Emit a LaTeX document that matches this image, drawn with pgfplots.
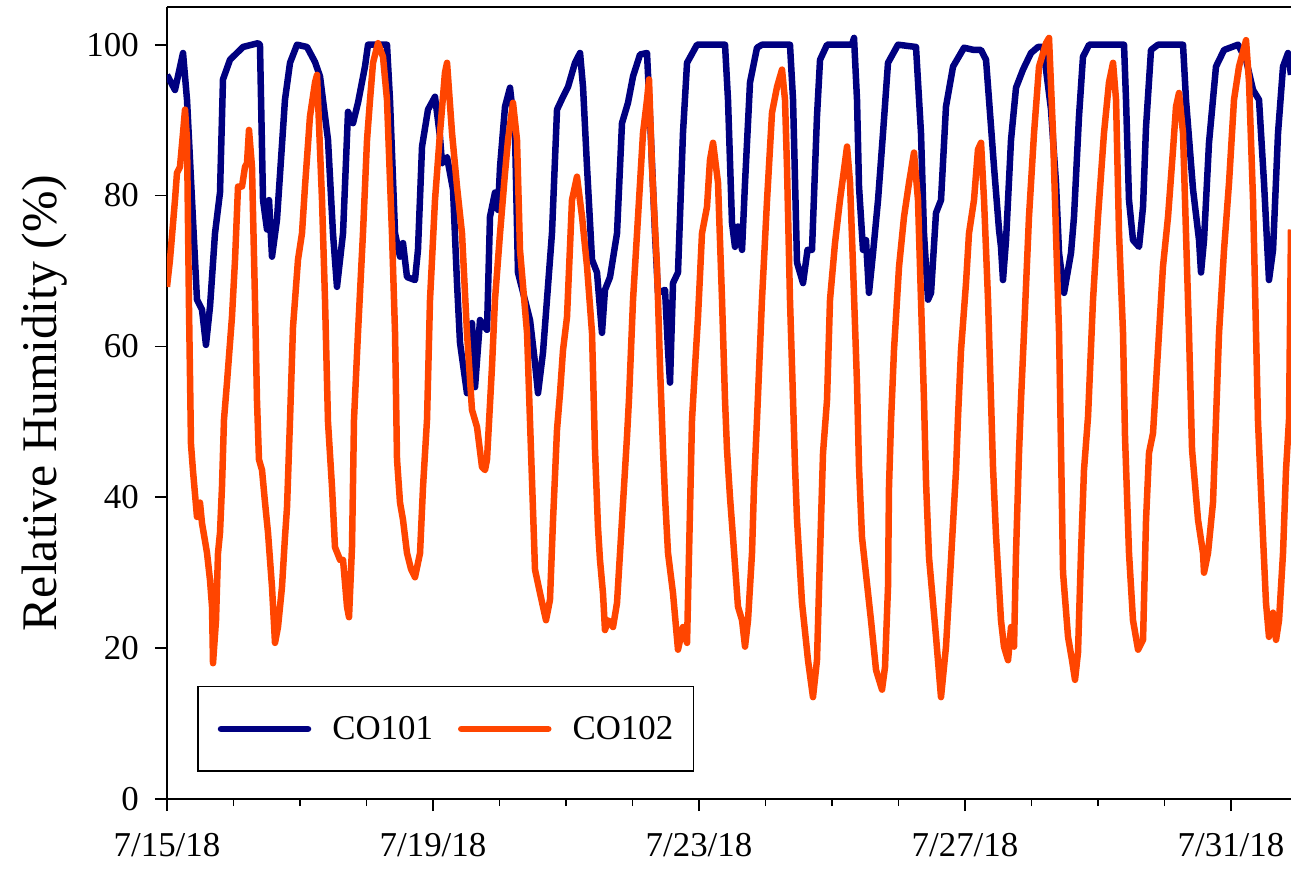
\documentclass[border=0pt]{standalone}
\usepackage{fontspec}
\setmainfont{Liberation Serif}
\usepackage{pgfplots}
\pgfplotsset{compat=1.18}
\definecolor{conavy}{RGB}{0,0,128}
\definecolor{coorange}{RGB}{255,69,0}
\begin{document}
\begin{tikzpicture}
\begin{axis}[name=ax,
  scale only axis, width=1124bp, height=792bp,
  xmin=0, xmax=16.902, ymin=0, ymax=105,
  axis x line*=box, axis y line*=left,
  xtick pos=left, ytick pos=left,
  tick align=outside,
  axis line style={line width=1.8bp, black},
  tick style={line width=1.8bp, black},
  major tick length=12bp, minor tick length=7bp,
  xtick={0,4,8,12,16},
  xticklabels={7/15/18,7/19/18,7/23/18,7/27/18,7/31/18},
  minor xtick={1,2,3,5,6,7,9,10,11,13,14,15},
  ytick={0,20,40,60,80,100},
  /pgf/number format/assume math mode=true,
  ticklabel style={font=\fontsize{35}{40}\selectfont},
  xticklabel style={anchor=north, inner sep=0pt, yshift=-22bp},
  yticklabel style={anchor=east, inner sep=0pt, xshift=-16bp},
  ylabel={Relative Humidity (\%)},
  ylabel style={font=\fontsize{50}{56}\selectfont, at={(axis description cs:-0.0979,0.5)}, anchor=base},
  legend columns=2,
  legend style={at={(axis description cs:0.0267,0.0341)}, anchor=south west,
    draw=black, line width=1.5bp, fill=white,
    font=\fontsize{35}{40}\selectfont,
    inner xsep=20bp, inner ysep=30bp,
    nodes={inner sep=0pt},
    /tikz/every odd column/.append style={column sep=21bp},
    /tikz/every even column/.append style={column sep=25bp}},
  legend image code/.code={\draw[line width=6.5bp, line cap=round] (0bp,0bp) -- (87bp,0bp);},
]
\addplot[conavy, line width=6.5bp, line join=round] coordinates {
(0.000,96.0)(0.120,94.0)(0.241,98.9)(0.301,92.7)(0.376,79.4)(0.451,66.2)(0.526,64.9)(0.586,60.2)(0.647,65.3)(0.722,75.0)(0.797,80.4)(0.842,95.4)(0.947,98.0)(1.143,99.7)(1.368,100.2)(1.398,100.0)(1.444,79.4)(1.504,75.5)(1.534,79.4)(1.579,71.9)(1.654,76.8)(1.774,92.7)(1.850,97.6)(1.955,100.0)(2.105,99.7)(2.226,97.7)(2.301,95.8)(2.421,87.4)(2.496,75.0)(2.556,67.9)(2.647,75.0)(2.722,91.1)(2.797,89.6)(2.872,92.3)(2.977,97.1)(3.023,100.0)(3.308,100.0)(3.353,92.7)(3.429,75.0)(3.504,71.9)(3.549,73.7)(3.609,69.2)(3.729,68.8)(3.774,72.8)(3.835,86.5)(3.925,91.4)(4.030,93.1)(4.105,87.8)(4.135,84.3)(4.211,85.1)(4.301,80.8)(4.361,68.4)(4.406,60.5)(4.511,53.8)(4.586,63.1)(4.632,54.6)(4.707,63.5)(4.812,62.2)(4.857,77.2)(4.932,80.4)(4.977,78.1)(5.008,83.8)(5.083,91.8)(5.158,94.3)(5.233,88.3)(5.278,69.8)(5.459,63.5)(5.534,57.8)(5.579,53.8)(5.654,59.2)(5.789,75.0)(5.865,91.4)(5.955,93.1)(6.030,94.4)(6.135,97.6)(6.211,98.9)(6.256,94.4)(6.316,83.8)(6.391,71.5)(6.466,69.8)(6.541,61.8)(6.586,67.5)(6.662,69.2)(6.767,75.0)(6.842,89.6)(6.932,92.3)(7.008,95.8)(7.113,98.7)(7.218,98.9)(7.263,90.5)(7.338,75.0)(7.383,67.1)(7.489,67.5)(7.534,59.5)(7.564,55.2)(7.609,68.4)(7.684,69.8)(7.759,88.3)(7.820,97.6)(7.970,100.0)(8.391,100.0)(8.436,92.7)(8.496,76.4)(8.541,73.2)(8.586,75.9)(8.647,72.8)(8.692,81.7)(8.767,95.0)(8.872,99.6)(8.947,100.0)(9.368,100.0)(9.414,92.7)(9.474,71.1)(9.564,68.4)(9.632,72.8)(9.699,72.8)(9.774,90.5)(9.820,98.0)(9.925,100.0)(10.301,100.0)(10.331,100.9)(10.376,92.7)(10.406,81.2)(10.466,72.8)(10.511,74.1)(10.556,67.1)(10.617,72.4)(10.692,79.4)(10.767,88.3)(10.842,97.6)(10.992,100.0)(11.263,99.7)(11.338,88.3)(11.383,75.0)(11.444,66.2)(11.489,67.1)(11.564,77.7)(11.639,79.4)(11.714,91.8)(11.820,97.1)(11.985,99.6)(12.135,99.3)(12.241,99.3)(12.316,98.0)(12.361,92.7)(12.436,83.8)(12.511,75.5)(12.541,73.2)(12.571,68.8)(12.617,74.1)(12.692,87.4)(12.767,94.3)(12.872,96.7)(12.992,98.9)(13.098,99.7)(13.173,99.7)(13.218,96.7)(13.293,91.4)(13.368,81.7)(13.414,72.4)(13.489,67.1)(13.594,72.4)(13.639,77.2)(13.714,90.5)(13.774,98.4)(13.865,100.0)(14.391,100.0)(14.421,92.7)(14.466,79.4)(14.526,74.1)(14.617,73.2)(14.677,78.5)(14.722,89.1)(14.797,99.3)(14.902,100.0)(15.278,100.0)(15.323,92.7)(15.429,80.8)(15.519,74.1)(15.549,69.8)(15.594,74.1)(15.669,87.0)(15.774,97.1)(15.895,99.3)(16.105,100.0)(16.226,98.0)(16.331,94.0)(16.421,92.7)(16.496,81.7)(16.571,68.8)(16.632,72.8)(16.707,88.3)(16.782,97.1)(16.857,98.9)(16.902,96.0)
};
\addlegendentry{CO101}
\addplot[coorange, line width=6.5bp, line join=round] coordinates {
(0.000,67.9)(0.045,71.5)(0.120,79.4)(0.150,83.0)(0.195,83.8)(0.241,88.3)(0.271,91.4)(0.301,87.4)(0.331,65.0)(0.361,47.0)(0.391,43.5)(0.451,37.4)(0.496,39.3)(0.526,36.6)(0.602,32.6)(0.647,29.0)(0.677,25.5)(0.692,18.0)(0.737,23.7)(0.767,32.6)(0.797,35.3)(0.827,41.4)(0.857,50.3)(0.902,55.2)(0.977,63.9)(1.023,71.5)(1.068,81.2)(1.128,81.2)(1.173,83.8)(1.203,84.3)(1.233,88.7)(1.278,83.8)(1.323,66.2)(1.353,52.9)(1.383,45.0)(1.429,43.6)(1.474,39.3)(1.519,35.3)(1.579,28.1)(1.624,20.7)(1.669,22.8)(1.729,28.1)(1.774,34.7)(1.805,38.7)(1.850,50.3)(1.895,62.6)(1.970,71.5)(2.030,75.0)(2.075,81.2)(2.150,90.5)(2.226,95.0)(2.256,96.0)(2.271,92.7)(2.331,79.4)(2.376,66.2)(2.421,50.0)(2.481,41.4)(2.526,33.4)(2.602,31.7)(2.647,31.7)(2.707,25.5)(2.737,24.1)(2.782,33.4)(2.812,50.3)(2.872,61.8)(2.947,75.0)(3.008,87.4)(3.053,92.7)(3.098,97.6)(3.173,100.2)(3.248,98.4)(3.308,92.7)(3.383,75.0)(3.429,61.8)(3.459,45.0)(3.504,39.3)(3.549,37.0)(3.609,32.6)(3.669,30.5)(3.729,29.4)(3.805,32.6)(3.850,41.4)(3.910,50.3)(3.955,66.2)(4.030,79.4)(4.105,88.3)(4.180,96.3)(4.211,97.6)(4.286,88.3)(4.361,81.2)(4.436,75.0)(4.511,61.8)(4.586,51.6)(4.662,49.3)(4.737,44.0)(4.782,43.6)(4.812,45.0)(4.887,57.3)(4.932,66.2)(5.008,75.0)(5.083,83.0)(5.128,87.4)(5.203,92.3)(5.263,87.4)(5.308,72.8)(5.414,61.8)(5.459,50.0)(5.534,30.4)(5.609,27.3)(5.699,23.7)(5.759,26.4)(5.805,37.0)(5.865,49.0)(5.910,53.8)(5.955,59.5)(6.015,63.9)(6.090,79.4)(6.165,82.5)(6.241,77.2)(6.316,70.6)(6.391,61.8)(6.436,46.3)(6.481,36.0)(6.511,31.7)(6.556,27.3)(6.586,22.4)(6.632,23.7)(6.707,22.8)(6.767,26.0)(6.842,37.0)(6.917,48.0)(6.947,53.0)(7.008,66.2)(7.083,77.2)(7.158,88.3)(7.218,92.7)(7.248,95.4)(7.293,83.8)(7.368,70.6)(7.414,57.3)(7.459,46.3)(7.489,40.0)(7.534,32.6)(7.609,27.3)(7.684,19.8)(7.759,22.8)(7.820,20.7)(7.850,32.6)(7.895,50.3)(7.940,57.3)(7.985,63.9)(8.045,75.0)(8.120,78.5)(8.165,84.7)(8.211,87.0)(8.286,81.7)(8.346,66.2)(8.391,52.9)(8.421,46.3)(8.466,40.0)(8.511,34.7)(8.586,25.5)(8.647,23.7)(8.692,20.2)(8.737,23.7)(8.797,32.6)(8.827,41.4)(8.872,50.3)(8.947,66.2)(9.023,79.4)(9.098,91.0)(9.173,94.4)(9.248,96.7)(9.293,92.7)(9.323,83.8)(9.368,66.2)(9.414,52.9)(9.444,44.0)(9.474,37.0)(9.549,26.0)(9.639,18.4)(9.714,13.5)(9.774,18.4)(9.820,32.6)(9.865,45.9)(9.925,52.9)(9.970,66.2)(10.045,73.7)(10.120,79.4)(10.226,86.5)(10.271,81.7)(10.316,70.6)(10.376,55.0)(10.406,44.0)(10.451,34.7)(10.586,23.7)(10.662,17.1)(10.752,14.5)(10.797,17.5)(10.842,28.1)(10.857,41.4)(10.887,50.0)(10.932,59.5)(11.008,70.6)(11.083,77.2)(11.158,81.7)(11.233,85.7)(11.293,79.4)(11.338,66.2)(11.383,52.9)(11.414,42.0)(11.459,32.0)(11.564,21.5)(11.639,13.5)(11.714,20.2)(11.789,31.7)(11.865,43.6)(11.895,50.7)(11.940,59.5)(12.015,68.4)(12.060,75.0)(12.135,79.4)(12.195,86.1)(12.241,87.0)(12.286,79.4)(12.346,66.2)(12.391,52.9)(12.421,44.0)(12.466,35.0)(12.541,23.7)(12.586,20.2)(12.647,18.4)(12.692,22.8)(12.737,20.2)(12.767,32.6)(12.812,45.9)(12.842,52.9)(12.887,61.8)(12.962,77.2)(13.038,88.3)(13.113,97.1)(13.218,100.2)(13.263,100.9)(13.323,88.3)(13.368,75.0)(13.414,61.8)(13.444,46.3)(13.474,30.0)(13.549,21.5)(13.609,18.4)(13.654,15.8)(13.699,19.4)(13.744,32.6)(13.789,43.6)(13.850,50.7)(13.925,66.2)(14.000,77.2)(14.090,88.3)(14.165,95.0)(14.226,97.6)(14.271,92.7)(14.316,75.0)(14.376,61.8)(14.406,48.0)(14.466,32.6)(14.526,23.7)(14.602,19.8)(14.677,21.1)(14.722,37.0)(14.767,45.9)(14.827,48.5)(14.902,59.5)(14.977,70.6)(15.053,77.2)(15.128,86.1)(15.173,91.8)(15.218,93.6)(15.278,88.3)(15.323,75.0)(15.368,61.8)(15.414,46.3)(15.504,37.0)(15.579,32.6)(15.594,30.0)(15.654,32.6)(15.729,39.3)(15.774,50.3)(15.820,61.8)(15.895,72.8)(15.970,81.7)(16.045,92.7)(16.120,97.1)(16.226,100.6)(16.271,95.0)(16.331,79.4)(16.376,61.8)(16.406,50.0)(16.481,34.7)(16.526,26.0)(16.571,21.5)(16.632,24.7)(16.677,21.1)(16.722,23.7)(16.782,32.6)(16.827,43.6)(16.872,50.3)(16.902,75.5)
};
\addlegendentry{CO102}
\end{axis}
\pgfresetboundingbox
\useasboundingbox ([shift={(-167bp,-72bp)}]ax.south west) rectangle ([shift={(0bp,7bp)}]ax.north east);
\end{tikzpicture}
\end{document}
